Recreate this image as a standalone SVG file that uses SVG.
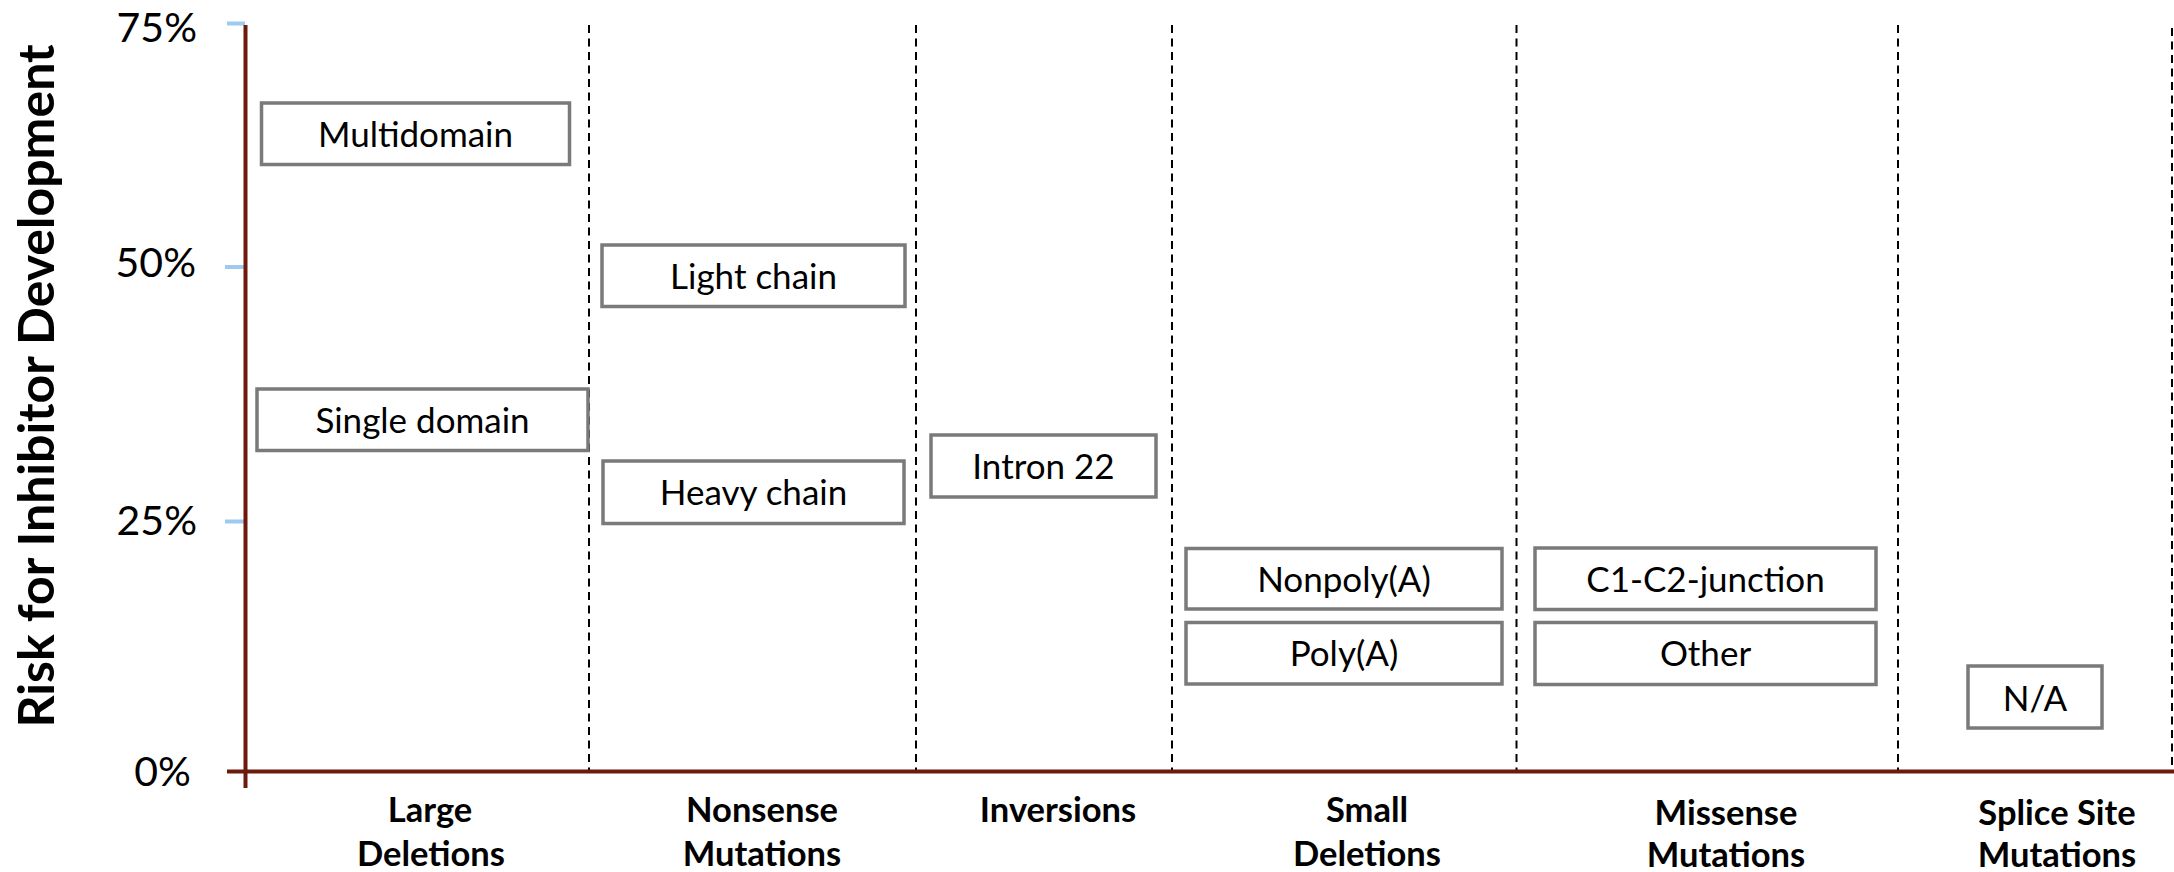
<svg xmlns="http://www.w3.org/2000/svg" width="2174" height="872" viewBox="0 0 2174 872">
  <style>
    .bg { fill: #ffffff; }
    .axis { stroke: #6b1a0c; stroke-width: 4; fill: none; }
    .tick { stroke: #9ec9f0; stroke-width: 4; fill: none; }
    .sep { stroke: #000000; stroke-width: 2; stroke-dasharray: 8 5.5; fill: none; }
    .box { fill: #ffffff; stroke: #7a7a7a; stroke-width: 3.5; }
    .boxlabel { font-family: Lato, "Liberation Sans", sans-serif; font-size: 35px; fill: #000000; text-anchor: middle; }
    .ticklabel { font-family: Lato, "Liberation Sans", sans-serif; font-size: 41px; fill: #000000; text-anchor: end; }
    .category { font-family: Lato, "Liberation Sans", sans-serif; font-size: 34.5px; font-weight: bold; fill: #000000; text-anchor: middle; }
    .title { font-family: Lato, "Liberation Sans", sans-serif; font-size: 50px; font-weight: bold; fill: #000000; text-anchor: middle; }
  </style>

  <rect class="bg" x="0" y="0" width="2174" height="872"/>

  <!-- category separators -->
  <g id="separators">
    <line class="sep" x1="589" y1="25" x2="589" y2="770"/>
    <line class="sep" x1="916" y1="25" x2="916" y2="770"/>
    <line class="sep" x1="1172" y1="25" x2="1172" y2="770"/>
    <line class="sep" x1="1516.5" y1="25" x2="1516.5" y2="770"/>
    <line class="sep" x1="1898" y1="25" x2="1898" y2="770"/>
    <line class="sep" x1="2172" y1="28" x2="2172" y2="770"/>
  </g>

  <!-- axes and ticks -->
  <g id="axes">
    <line class="tick" x1="227" y1="23.5" x2="245" y2="23.5"/>
    <line class="tick" x1="225" y1="267" x2="244" y2="267"/>
    <line class="tick" x1="225" y1="521.5" x2="244" y2="521.5"/>
    <line class="axis" x1="245.5" y1="25" x2="245.5" y2="788"/>
    <line class="axis" x1="227" y1="771.5" x2="2174" y2="771.5"/>
    <text class="ticklabel" x="197" y="41.7">75%</text>
    <text class="ticklabel" x="196" y="277">50%</text>
    <text class="ticklabel" x="197" y="535">25%</text>
    <text class="ticklabel" x="191" y="786">0%</text>
    <text class="title" transform="translate(54 386) rotate(-90)">Risk for Inhibitor Development</text>
  </g>

  <!-- category names -->
  <g id="categories">
    <text class="category" x="430" y="822">Large</text>
    <text class="category" x="431" y="866">Deletions</text>
    <text class="category" x="762" y="822">Nonsense</text>
    <text class="category" x="762" y="866">Mutations</text>
    <text class="category" x="1058" y="822">Inversions</text>
    <text class="category" x="1367" y="822">Small</text>
    <text class="category" x="1367" y="866">Deletions</text>
    <text class="category" x="1726" y="825">Missense</text>
    <text class="category" x="1726" y="867">Mutations</text>
    <text class="category" x="2057" y="825">Splice Site</text>
    <text class="category" x="2057" y="867">Mutations</text>
  </g>

  <!-- mutation subtype boxes -->
  <g id="multidomain">
    <rect class="box" x="261.5" y="103" width="308" height="61.5"/>
    <text class="boxlabel" x="415.5" y="146.5">Multidomain</text>
  </g>
  <g id="single-domain">
    <rect class="box" x="257" y="389" width="331" height="61.5"/>
    <text class="boxlabel" x="422.5" y="432.5">Single domain</text>
  </g>
  <g id="light-chain">
    <rect class="box" x="602" y="245" width="303" height="61.5"/>
    <text class="boxlabel" x="753.5" y="288.5">Light chain</text>
  </g>
  <g id="heavy-chain">
    <rect class="box" x="603" y="461" width="301" height="62.5"/>
    <text class="boxlabel" x="753.5" y="505">Heavy chain</text>
  </g>
  <g id="intron-22">
    <rect class="box" x="931" y="435" width="225" height="62"/>
    <text class="boxlabel" x="1043.5" y="478.5">Intron 22</text>
  </g>
  <g id="nonpoly-a">
    <rect class="box" x="1186" y="548.5" width="316" height="60.5"/>
    <text class="boxlabel" x="1344" y="591.7">Nonpoly(A)</text>
  </g>
  <g id="poly-a">
    <rect class="box" x="1186" y="622.5" width="316" height="61.5"/>
    <text class="boxlabel" x="1344" y="665.7">Poly(A)</text>
  </g>
  <g id="c1-c2-junction">
    <rect class="box" x="1535" y="548" width="341" height="61.5"/>
    <text class="boxlabel" x="1705.5" y="591.7">C1-C2-junction</text>
  </g>
  <g id="other">
    <rect class="box" x="1535" y="622.5" width="341" height="62"/>
    <text class="boxlabel" x="1705.5" y="665.7">Other</text>
  </g>
  <g id="n-a">
    <rect class="box" x="1968" y="666" width="134" height="62"/>
    <text class="boxlabel" x="2035" y="710.7">N/A</text>
  </g>
</svg>
